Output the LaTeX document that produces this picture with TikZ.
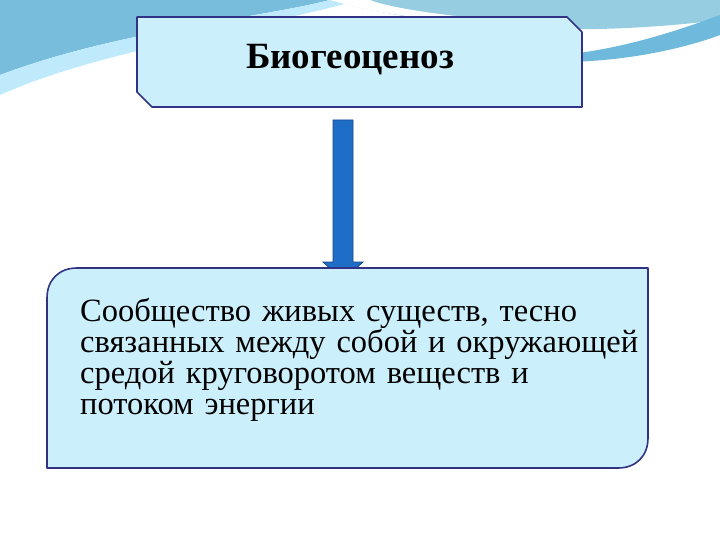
\documentclass[tikz,border=0pt]{standalone}
\usepackage{fontspec}
\setmainfont{Liberation Serif}
\definecolor{waveA}{RGB}{120,190,220}
\definecolor{waveB}{RGB}{150,205,225}
\definecolor{waveC}{RGB}{110,185,220}
\definecolor{arrfill}{RGB}{30,110,200}
\definecolor{arrdraw}{RGB}{20,70,140}
\begin{document}
\begin{tikzpicture}[x=1pt,y=-1pt,
  boxfill/.style={fill=cyan!20!white, draw=blue!40!black!80, line width=1.6pt, line join=round},
  arr/.style={fill=arrfill, draw=arrdraw, line width=0.8pt}]
\useasboundingbox (0,0) rectangle (720,540);
% background waves
\fill[waveA] (0,0) -- (330,0) .. controls (250,20) and (120,30) .. (0,75) -- cycle;
\fill[cyan!25!white] (0,75) .. controls (120,30) and (250,20) .. (330,0) -- (360,0) .. controls (250,30) and (100,50) .. (0,95) -- cycle;
\fill[waveB] (330,0) .. controls (420,25) and (560,40) .. (720,20) -- (720,0) -- cycle;
\fill[white] (330,0) .. controls (380,15) and (450,25) .. (560,25) .. controls (450,18) and (390,8) .. (370,0) -- cycle;
\fill[waveC] (560,55) .. controls (620,50) and (680,30) .. (720,15) -- (720,35) .. controls (680,50) and (620,62) .. (560,62) -- cycle;
% title box
\path[boxfill] (137,17) -- (567,17) -- (582,32) -- (582,107) -- (152,107) -- (137,92) -- cycle;
\node (title) at (350,60) {\fontsize{37}{40}\selectfont\bfseries Биогеоценоз};
% arrow
\coordinate (a2) at (343,280);
\path[arr] (333,120) -- (353,120) -- (353,262) -- (363,262) -- (a2) -- (323,262) -- (333,262) -- cycle;
% bottom box
\path[boxfill] (77,268) -- (648,268) -- (648,438) .. controls (648,456) and (636,468) .. (618,468) -- (47,468) -- (47,298) .. controls (47,280) and (59,268) .. (77,268) -- cycle;
\node (body) [anchor=north west, align=left, inner sep=0, text width=570, font={\fontsize{32.5}{31}\selectfont}] at (80,298)
 {Сообщество живых существ, тесно\\ связанных между собой и окружающей\\ средой круговоротом веществ и\\ потоком энергии};
\end{tikzpicture}
\end{document}
